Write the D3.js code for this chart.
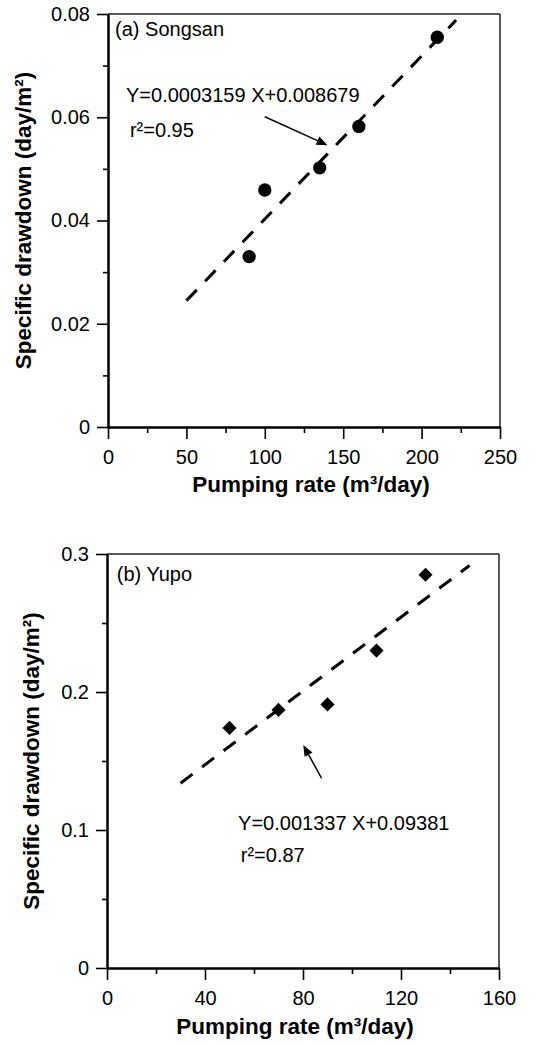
<!DOCTYPE html>
<html>
<head>
<meta charset="utf-8">
<script src="https://cdn.jsdelivr.net/npm/d3@7"></script>
<style>
  body { margin: 0; background: #fff; }
  svg text { font-family: "Liberation Sans", Arial, sans-serif; fill: #000; }
</style>
</head>
<body>
<svg id="chart" width="549" height="1046"></svg>
<script>
//* data
var songsanQ = [90, 100, 135, 160, 210]
var songsanS = [0.033, 0.0459, 0.0502, 0.0582, 0.0755]
var songsanFit = [0.0003159, 0.008679]     // slope, intercept
var songsanFitRange = [50, 222]
var songsanXTicks = [0, 50, 100, 150, 200, 250]
var songsanYTicks = [0, 0.02, 0.04, 0.06, 0.08]
var songsanYLabels = ["0", "0.02", "0.04", "0.06", "0.08"]

var yupoQ = [50, 70, 90, 110, 130]
var yupoS = [0.174, 0.187, 0.191, 0.230, 0.285]
var yupoFit = [0.001337, 0.09381]
var yupoFitRange = [30, 148]
var yupoXTicks = [0, 40, 80, 120, 160]
var yupoYTicks = [0, 0.1, 0.2, 0.3]
var yupoYLabels = ["0", "0.1", "0.2", "0.3"]

var svg = d3.select("#chart")

function drawPanel(p){
    var x = d3.scaleLinear().domain(p.xDomain).range(p.xRange)
    var y = d3.scaleLinear().domain(p.yDomain).range(p.yRange)
    var g = svg.append("g")

    //? frame top + right (thin)
    g.append("line").attr("x1", x.range()[0]).attr("x2", x.range()[1]).attr("y1", y.range()[1]).attr("y2", y.range()[1])
        .attr("stroke", "#222").attr("stroke-width", 1.5)
    g.append("line").attr("x1", x.range()[1]).attr("x2", x.range()[1]).attr("y1", y.range()[0]).attr("y2", y.range()[1])
        .attr("stroke", "#222").attr("stroke-width", 1.5)

    //? minor ticks (midpoints)
    var xMinor = d3.pairs(p.xTicks).map(d => (d[0] + d[1]) / 2)
    var yMinor = d3.pairs(p.yTicks).map(d => (d[0] + d[1]) / 2)
    g.append("g").attr("transform", "translate(0," + y.range()[0] + ")")
        .call(d3.axisBottom(x).tickValues(xMinor).tickSize(6).tickSizeOuter(0).tickFormat(""))
    g.append("g").attr("transform", "translate(" + x.range()[0] + ",0)")
        .call(d3.axisLeft(y).tickValues(yMinor).tickSize(5).tickSizeOuter(0).tickFormat(""))

    //? major axes
    g.append("g").attr("transform", "translate(0," + y.range()[0] + ")")
        .call(d3.axisBottom(x).tickValues(p.xTicks).tickSize(12).tickSizeOuter(0).tickPadding(11).tickFormat(d3.format("d")))
    g.append("g").attr("transform", "translate(" + x.range()[0] + ",0)")
        .call(d3.axisLeft(y).tickValues(p.yTicks).tickSize(11).tickSizeOuter(0).tickPadding(7)
            .tickFormat((d, i) => p.yLabels[i]))
    g.selectAll(".domain").attr("stroke-width", 2)
    g.selectAll(".tick line").attr("stroke-width", 1.6)
    g.selectAll(".tick text").style("font-size", "20px").attr("font-family", null)

    //? axis titles
    g.append("text").attr("x", p.xTitleX).attr("y", p.xTitleY).attr("text-anchor", "middle")
        .style("font-size", "22.5px").style("font-weight", "bold").text("Pumping rate (m³/day)")
    g.append("text").attr("transform", "translate(" + p.yTitleX + "," + d3.mean(y.range()) + ") rotate(-90)")
        .attr("text-anchor", "middle").style("font-size", "22.5px").style("font-weight", "bold")
        .text("Specific drawdown (day/m²)")

    //? regression line
    var fit = p.fitRange.map(q => [x(q), y(p.fit[0] * q + p.fit[1])])
    g.append("path").attr("d", d3.line()(fit)).attr("fill", "none").attr("stroke", "#000")
        .attr("stroke-width", 3).attr("stroke-dasharray", "15,12")

    //? points
    g.selectAll(".pt").data(d3.zip(p.q, p.s)).enter().append("path")
        .attr("transform", d => "translate(" + x(d[0]) + "," + y(d[1]) + ")" + (p.diamond ? " rotate(45)" : ""))
        .attr("d", d3.symbol().type(p.diamond ? d3.symbolSquare : d3.symbolCircle).size(p.diamond ? 100 : 140))
        .attr("fill", "#000")

    //? labels
    g.append("text").attr("x", x(p.title[0])).attr("y", y(p.title[1])).style("font-size", "20px").text(p.title[2])
    g.append("text").attr("x", x(p.eq[0])).attr("y", y(p.eq[1])).style("font-size", "20px").text(p.eq[2])
    g.append("text").attr("x", x(p.r2[0])).attr("y", y(p.r2[1])).style("font-size", "20px").text(p.r2[2])

    //? arrow
    var a0 = [x(p.arrow[0]), y(p.arrow[1])], a1 = [x(p.arrow[2]), y(p.arrow[3])]
    var ang = Math.atan2(a1[1] - a0[1], a1[0] - a0[0])
    var hl = 11, hw = 4.5
    var back = [a1[0] - hl * Math.cos(ang), a1[1] - hl * Math.sin(ang)]
    g.append("line").attr("x1", a0[0]).attr("y1", a0[1]).attr("x2", back[0]).attr("y2", back[1])
        .attr("stroke", "#000").attr("stroke-width", 1.5)
    g.append("path").attr("d", d3.line()([a1,
            [back[0] - hw * Math.sin(ang), back[1] + hw * Math.cos(ang)],
            [back[0] + hw * Math.sin(ang), back[1] - hw * Math.cos(ang)]]) + "Z")
        .attr("fill", "#000")
}

drawPanel({
    xDomain: [0, 250], xRange: [108, 500], yDomain: [0, 0.08], yRange: [427, 14],
    xTicks: songsanXTicks, yTicks: songsanYTicks, yLabels: songsanYLabels,
    q: songsanQ, s: songsanS, fit: songsanFit, fitRange: songsanFitRange, diamond: false,
    xTitleX: 311, xTitleY: 492, yTitleX: 31,
    title: [4.5, 0.0757, "(a) Songsan"],
    eq: [11.5, 0.0629, "Y=0.0003159 X+0.008679"],
    r2: [14, 0.0561, "r²=0.95"],
    arrow: [100, 0.0601, 140, 0.0546]
})

drawPanel({
    xDomain: [0, 160], xRange: [107, 499], yDomain: [0, 0.3], yRange: [968, 554],
    xTicks: yupoXTicks, yTicks: yupoYTicks, yLabels: yupoYLabels,
    q: yupoQ, s: yupoS, fit: yupoFit, fitRange: yupoFitRange, diamond: true,
    xTitleX: 295, xTitleY: 1034, yTitleX: 39,
    title: [4, 0.2802, "(b) Yupo"],
    eq: [53.5, 0.1002, "Y=0.001337 X+0.09381"],
    r2: [54.6, 0.0771, "r²=0.87"],
    arrow: [87.6, 0.1375, 80.1, 0.1616]
})
</script>
</body>
</html>
